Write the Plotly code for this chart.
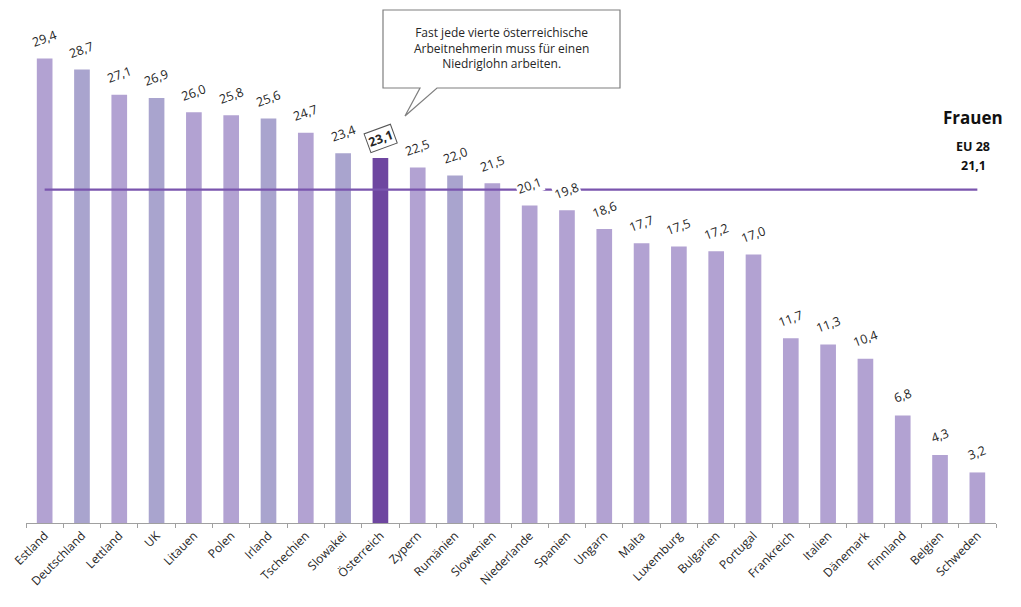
import plotly.graph_objects as go

countries = ["Estland", "Deutschland", "Lettland", "UK", "Litauen", "Polen", "Irland",
             "Tschechien", "Slowakei", "Österreich", "Zypern", "Rumänien", "Slowenien",
             "Niederlande", "Spanien", "Ungarn", "Malta", "Luxemburg", "Bulgarien",
             "Portugal", "Frankreich", "Italien", "Dänemark", "Finnland", "Belgien", "Schweden"]
values = [29.4, 28.7, 27.1, 26.9, 26.0, 25.8, 25.6, 24.7, 23.4, 23.1, 22.5, 22.0, 21.5,
          20.1, 19.8, 18.6, 17.7, 17.5, 17.2, 17.0, 11.7, 11.3, 10.4, 6.8, 4.3, 3.2]
eu28 = 21.1
highlight = "Österreich"

light = "#B2A2D2"
bluish = "#A9A4CE"
dark = "#6E46A0"
bluish_set = {"Deutschland", "UK", "Irland", "Slowakei", "Rumänien"}
colors = [dark if c == highlight else (bluish if c in bluish_set else light) for c in countries]

FONT = "Open Sans, Lato, sans-serif"

fig = go.Figure()
fig.add_trace(go.Bar(x=countries, y=values, marker=dict(color=colors, line=dict(width=0)),
                     hoverinfo="x+y", showlegend=False))
fig.add_trace(go.Scatter(x=[countries[0], countries[-1]], y=[eu28, eu28], mode="lines",
                         line=dict(color="#7A55AE", width=2.2), showlegend=False, hoverinfo="skip"))

def fmt(v):
    return f"{v:.1f}".replace(".", ",")

for c, v in zip(countries, values):
    hl = c == highlight
    fig.add_annotation(x=c, y=v, yshift=20, text=f"<b>{fmt(v)}</b>" if hl else fmt(v),
                       showarrow=False, textangle=-20,
                       font=dict(family=FONT, size=12.5, color="#262626"),
                       bgcolor="white", bordercolor="#555555" if hl else "rgba(0,0,0,0)",
                       borderwidth=1 if hl else 0, borderpad=1)

# Callout bubble (pixel -> paper conversion)
L, R, T, B = 26, 996, 49, 523
def px(xp):
    return (xp - L) / (R - L)
def py(yp):
    return (B - yp) / (B - T)

bx0, bx1, by0, by1 = 383, 620, 10, 88
pts = [(bx0, by0), (bx1, by0), (bx1, by1), (437, by1), (405, 116), (420, by1), (bx0, by1)]
path = "M " + " L ".join(f"{px(a):.5f},{py(b):.5f}" for a, b in pts) + " Z"
fig.add_shape(type="path", path=path, xref="paper", yref="paper",
              line=dict(color="#7F7F7F", width=1.2), fillcolor="white", layer="above")
fig.add_annotation(xref="paper", yref="paper", x=px((bx0 + bx1) / 2), y=py((by0 + by1) / 2 - 1),
                   xanchor="center", yanchor="middle",
                   text="Fast jede vierte österreichische<br>Arbeitnehmerin muss für einen<br>Niedriglohn arbeiten.",
                   showarrow=False, align="center",
                   font=dict(family=FONT, size=12, color="#262626"))

for txt, yy, sz in [("<b>Frauen</b>", 117, 17), ("<b>EU 28</b>", 146, 12.5), (f"<b>{fmt(eu28)}</b>", 165, 12.5)]:
    fig.add_annotation(xref="paper", yref="paper", x=px(973), y=py(yy), xanchor="center",
                       yanchor="middle", text=txt, showarrow=False,
                       font=dict(family=FONT, size=sz, color="#111111"))

fig.update_layout(
    width=1021, height=607, margin=dict(l=L, r=1021 - R, t=T, b=607 - B),
    plot_bgcolor="white", paper_bgcolor="white", bargap=0.58,
    xaxis=dict(showline=True, linecolor="#A0A0A0", linewidth=1, ticks="outside",
               ticklen=4, tickcolor="#A0A0A0", tickson="boundaries", tickangle=-45,
               tickfont=dict(family=FONT, size=12, color="#262626"),
               showgrid=False, range=[-0.5, len(countries) - 0.5]),
    yaxis=dict(range=[0, 30], visible=False, showgrid=False),
)

fig.write_html("out.html")
